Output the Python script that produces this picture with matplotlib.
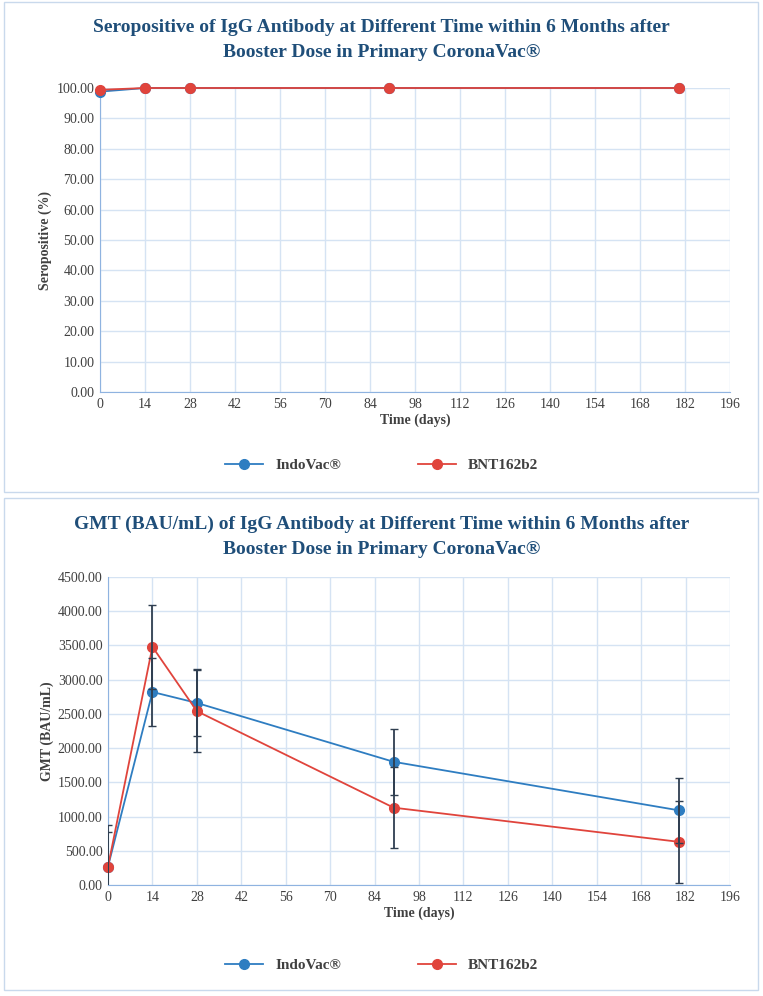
import matplotlib
matplotlib.use("Agg")
import matplotlib.pyplot as plt
from matplotlib.patches import Rectangle

days = [0, 14, 28, 90, 180]
sero_indovac = [98.8, 100, 100, 100, 100]
sero_bnt = [99.4, 100, 100, 100, 100]
gmt_indovac = [270, 2820, 2660, 1800, 1090]
gmt_bnt = [270, 3480, 2540, 1130, 630]
err_indovac = [610, 490, 490, 480, 480]
err_bnt = [510, 610, 600, 590, 600]
xticks = list(range(0, 197, 14))

plt.rcParams["font.family"] = "Liberation Serif"
W, H = 763, 996
fig = plt.figure(figsize=(W/100, H/100), dpi=100)
blue = "#2E7DC1"; red = "#E0443C"; title_c = "#1F4E79"; tick_c = "#404040"; grid_c = "#D5E3F3"

def box(y0, y1):
    fig.patches.append(Rectangle((4/W, 1-y1/H), (W-9)/W, (y1-y0)/H, transform=fig.transFigure,
                                 fill=False, edgecolor="#C9D9EC", lw=1))
box(2, 492); box(498, 990)

def panel(l, r, t, b, ylim, yt, ylabel, a, bb, ea=None, eb=None, title="", ty=0, ly=0):
    ax = fig.add_axes([l/W, 1-b/H, (r-l)/W, (b-t)/H])
    ax.plot(days, a, color=blue, marker="o", ms=7, lw=1.3, label="IndoVac®", zorder=3, clip_on=False)
    ax.plot(days, bb, color=red, marker="o", ms=7, lw=1.3, label="BNT162b2", zorder=4, clip_on=False)
    if ea is not None:
        ax.errorbar(days, a, yerr=ea, fmt="none", ecolor="#2F3E50", capsize=3, lw=1.3, zorder=5)
        ax.errorbar(days, bb, yerr=eb, fmt="none", ecolor="#2F3E50", capsize=3, lw=1.3, zorder=5)
    ax.set_xlim(0, 196); ax.set_ylim(*ylim)
    ax.set_xticks(xticks); ax.set_yticks(yt)
    ax.set_yticklabels([f"{v:.2f}" for v in yt])
    ax.grid(True, color=grid_c, lw=1)
    for s in ["top", "right"]:
        ax.spines[s].set_visible(False)
    ax.spines["left"].set_color("#8FB3E0"); ax.spines["bottom"].set_color("#8FB3E0")
    ax.tick_params(colors=tick_c, labelsize=10, length=0, pad=4)
    ax.set_xlabel("Time (days)", fontsize=10, fontweight="bold", color=tick_c, labelpad=2)
    ax.set_ylabel(ylabel, fontsize=10, fontweight="bold", color=tick_c, labelpad=3)
    fig.text(0.5, 1-ty/H, title, ha="center", va="center", fontsize=14, fontweight="bold",
             color=title_c, linespacing=1.6)
    leg = fig.legend(*ax.get_legend_handles_labels(), loc="center", bbox_to_anchor=(0.5, 1-ly/H),
                     ncol=2, frameon=False, fontsize=11, columnspacing=5, handlelength=2.5)
    for t in leg.get_texts():
        t.set_fontweight("bold"); t.set_color(tick_c)
    return ax

panel(100, 730, 88, 392, (0, 100), [i*10 for i in range(11)], "Seropositive (%)",
      sero_indovac, sero_bnt,
      title="Seropositive of IgG Antibody at Different Time within 6 Months after\nBooster Dose in Primary CoronaVac®",
      ty=40, ly=465)
panel(108, 730, 577, 885, (0, 4500), [i*500 for i in range(10)], "GMT (BAU/mL)",
      gmt_indovac, gmt_bnt, err_indovac, err_bnt,
      title="GMT (BAU/mL) of IgG Antibody at Different Time within 6 Months after\nBooster Dose in Primary CoronaVac®",
      ty=537, ly=965)

fig.savefig("out.png", dpi=100, facecolor="white")
